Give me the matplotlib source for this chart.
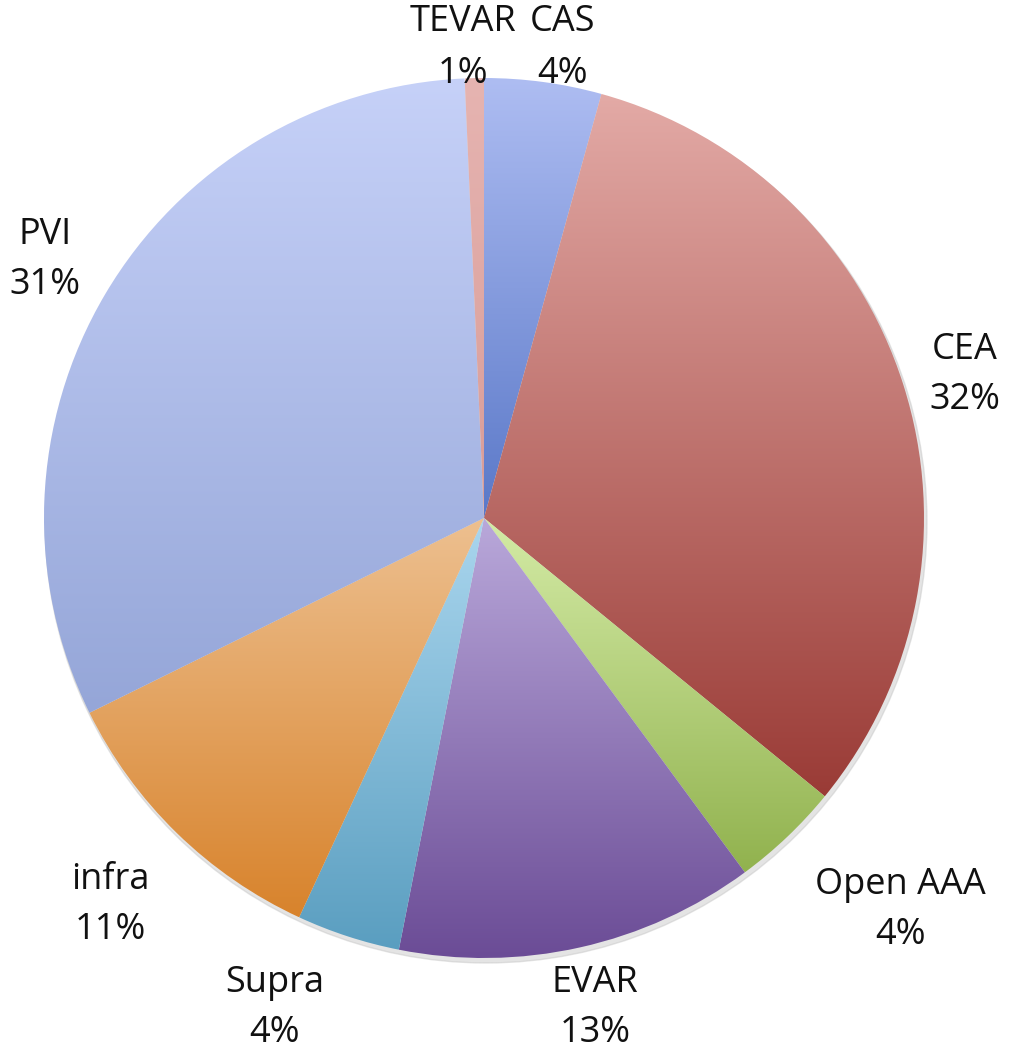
import numpy as np
import matplotlib.pyplot as plt
from matplotlib.colors import LinearSegmentedColormap

# Slices, clockwise from 12 o'clock
labels = ['CAS', 'CEA', 'Open AAA', 'EVAR', 'Supra', 'infra', 'PVI', 'TEVAR']
shares = [4.3, 31.6, 4.0, 13.2, 3.8, 10.8, 31.6, 0.7]
pct_text = ['4%', '32%', '4%', '13%', '4%', '11%', '31%', '1%']

# gradient colours (top, bottom) of each slice
top_colors = ['#AEBDF2', '#E3AAA6', '#D4EBA6', '#B9A8DA', '#AAD6EE', '#EDC090', '#C6D1F8', '#E6B4B1']
bottom_colors = ['#5A78C8', '#9A3B36', '#91B24E', '#6B4C96', '#5A9EC0', '#D8832C', '#95A6D8', '#D89C98']

# label centres in pixels (x, y of first line from the top)
label_pos = [(563, 22), (965, 350), (900, 885), (595, 983), (275, 983), (110, 880), (45, 235), (463, 22)]

W, H = 1009, 1050
fig = plt.figure(figsize=(W / 100, H / 100), dpi=100)
ax = fig.add_axes([0, 0, 1, 1])

cx, cy, r = 484, H - 518, 440

# soft shadow
shadow = plt.Circle((cx + 2, cy - 4), r + 1, color='#c4c4c4', alpha=0.45, zorder=0)
ax.add_patch(shadow)

wedges, _ = ax.pie(shares, startangle=90, counterclock=False, center=(cx, cy),
                   radius=r, wedgeprops=dict(linewidth=0), frame=True)

grad = np.linspace(0, 1, 256).reshape(-1, 1)
for w, c1, c2 in zip(wedges, top_colors, bottom_colors):
    w.set_facecolor('none')
    ext = w.get_path().get_extents(w.get_transform() - ax.transData)
    cmap = LinearSegmentedColormap.from_list('g', [c1, c2])
    im = ax.imshow(grad, cmap=cmap, aspect='auto', origin='upper',
                   extent=(ext.x0, ext.x1, ext.y0, ext.y1), zorder=1,
                   interpolation='bilinear')
    im.set_clip_path(w)

ax.set_xlim(0, W)
ax.set_ylim(0, H)
ax.set_aspect('equal')
ax.axis('off')

for name, pct, (x, y) in zip(labels, pct_text, label_pos):
    gap = 50
    if name in ('CAS', 'TEVAR'):
        gap = 52
    ax.text(x, H - y, name, ha='center', va='center', fontsize=26,
            family='Open Sans', color='#111111')
    ax.text(x, H - y - gap, pct, ha='center', va='center', fontsize=26,
            family='Open Sans', color='#111111')

fig.savefig('out.png', dpi=100)
